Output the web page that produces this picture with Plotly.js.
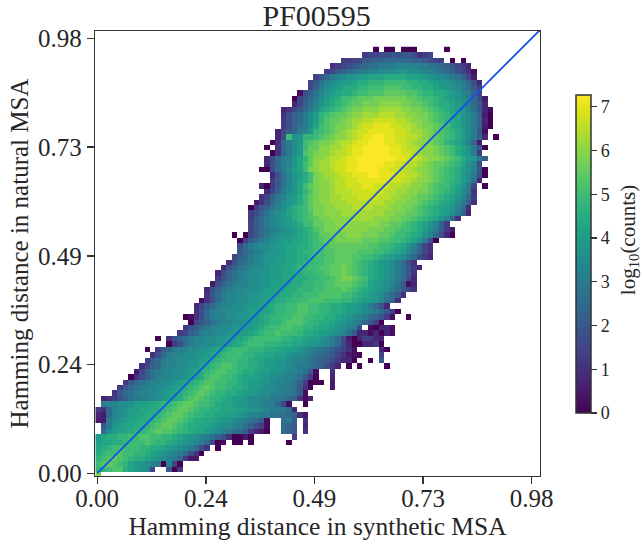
<!DOCTYPE html>
<html><head><meta charset="utf-8">
<script src="https://cdn.plot.ly/plotly-3.0.1.min.js"></script>
<style>html,body{margin:0;padding:0;background:#fff}#c{width:643px;height:547px}</style>
</head><body><div id="c"></div>
<script>
const title = "PF00595";
const xTitle = "Hamming distance in synthetic MSA";
const yTitle = "Hamming distance in natural MSA";
const tickVals = [0, 0.245, 0.49, 0.735, 0.98];
const tickLabels = ["0.00", "0.24", "0.49", "0.73", "0.98"];
const cbTicks = [0,1,2,3,4,5,6,7];
// log10(counts) per bin, one character per bin: value = code / 4 (0-9 then a-t), "." = empty bin.
// Listed top row first; rowStart is the index of the first bin in the row.
const rowStart = [51,49,45,43,42,40,39,39,37,36,36,34,34,34,34,33,33,32,31,32,31,31,30,32,32,30,31,30,29,28,28,28,28,28,25,26,26,26,25,24,23,22,22,21,20,20,19,18,18,16,17,16,15,11,13,9,10,9,8,7,6,5,4,3,1,1,0,0,0,1,1,0,0,0,0,0,0,0,0];
const rowCells = [
"0.00.000.....0",
"5667787887456",
"55668899aaaaa998765.0.0",
"456789abbcccddddccbba98653",
"5689abccddeeefffeeddcba97641",
"68acdeffgghhhiiiihhggfeedcb962",
"68bdefgghiijjjkkkkjjiihgffedca73",
"69cefghiijjkkklllkkjjiihgffecb85",
"179bdfghiijkklllmmmmllkjjiihgfdc96",
"068aceghikklmmmnnnnnnmmlkkjihgfeca72",
"369bdfhijklmmnnnoooonnmmlkjiihgeca83",
"3468acehijklmnnoooppppoonnmlkjihgfdb831",
"479acegjklmmnoopppqqqppoonnmlkjihfec920",
"579acegjlmmnoppqqrrrrqqpoonmlkjihfec930",
"579bcehklmnnopqrrsssrrqqponnmlkihgec920",
"368acdfjklmnopqrrsssssrrqpponmlkjigec81",
"37kefjjklmnoopqrssttssrrqqponmlkjigec93.0",
"04acefklmnnopqqrsstttssrrqpoonmljihfd92",
"0.4acegkmmooppqrsstttttssrqqpoonmlkihfc80",
"049ceflmnoopqqrsstttttssrrqpoonmlkigfc5",
"37acdfhjmoopqqrsstttttttssrrqpoonmlkigfc9",
"37acdfhkmoppqrrsstttttssrrqqponmmlkjhfd7",
"007aceghknoppqrrssttttssrrqqpoonmlkjigfd80",
"37bdfgiknoppqrrsssttsssrrqqponmlkjigec70",
"58bdfhiknoopqqrrssssssrrqqpoonmlkjigeb3",
"3058bdfhkmnoopqqrrrssrrrqqppoonmlkkihfc6.0",
"369cefhjlnoopqqqrrrrrrqqppoonnmlkjigec4",
"469cdfgikmnooppqqqrrrrqqppoonmmlkjihfda5",
"247acefgikmnoopppqqqqqqqppoonnmlkjihgec94",
"0589bdegijkmnnoopppqqqqpppoonnmlkjihgfda4",
"579bdefhijklnnoooppppppppoonnmmlkjihgec93",
"58acdefgijklmnnoooopppp" + "ooonnmmlkjihfda4",
"68acdefghikkmmnnoooooooonnmmlkjihfd95",
"68abcdefghijlmnnnooooonnnmmlkkjigec852",
"0.068acdeffghijkmmnnnooonnnmmlkkjihfda730",
"068acdefgghhijklmmnnnnnmmmllkkjihfc70",
"7acdeefgghhiijkklmmmmmmmllkkjihfda64",
"8abcdeffghhijjkkllmmmmlllkkjihgec964",
"69acdeffgghhiijkkllmmmllkkjihgfeca753",
"47abcdeffgghhijjkkllmmmlkjihgfeca74",
"379bcdeefgghhijjkkllmmnmlkjihgfecb853",
"379bcdeeffgghhiijjkklmmnmlkjihgfeca84",
"579bcdeeffgghhiiijjkklmnnmlkihgfdca73",
"279bcddeeffgghhiijjkkllmmmlkjhgfedb813",
"379bcddeeffgghhiijjjkklllmlkjihgfeca864",
"48acddeeffgghhiijjkkkllllkkjihgfeca84",
"147acddeeffgghiijjkklllkkkjjihggfdb94",
"368acddeeffgghijjkkllkkjjiihggfeca73",
"47acddeeffgghhijjkkllkkjjiihggfedca850",
"0147acddeeffgghijjkkllkkjjiihgfedca9751..0",
"0689bcddeefgghijjklllkjjiihgfedca850",
"578acddeeffgghijkkllkkjjihhgfedc7.10331",
"569acddeeffgghijkklkkkjiihggfedb83313031",
"0.479bcddeeffgghijkkkkkjjiihggfeca72035533",
"057acddeeffghijkkkjjjiihhgffedca63003350",
"0.58acddeeffghijkkkjjjiihhggfedcba97641....30",
"47acddeeffghijkkkjjiihhggfeedcba9864210...6",
"58acddeeffghijkkkjjiihggffeddcba9875330..0.8",
"469acddeeffhijkllkjjiihggffedccba9753.0.0....0",
"269bcddeefghijkllkkjiihggffeddcb81..4",
"0479bcddeefghikllkkjihhggfeeddcb850..3",
"58abcddeefghijkllkkjjihggffeddcb95000.2",
"58abcddeefghijklmlkkjiihggfeedccb840...2",
"48abcddeefghijklmlkjjiihggfeeddccb81",
"34579bccddefghiklmlkjjihggfeeddccba9413",
"cddeefgghhijjklmmlkkjihhgffeedcca61..0",
"54adefgghhiijklmmlkjjiihhhggffedccca3",
"32adefghhiijklmmlkjjiihhggfeddccbbba942",
"22cefghhiijklmmlkjiihhgffedcba81..bc9.4",
"8cfghhiijklmmlkjiihhgfeedcb9751..b98.3",
"aeghhijjklmllkjjihhgfedcba85320..a98.4",
"ghiijjkkllkkjjihgfedcb9740020.......5",
"ghhiijkkklkjjihgfedca601.00.0......0",
"hijkkkkkjjiihgfedca74.0",
"ijkklkkjjihgfedca740",
"jklmlkjiihgfedca522",
"klmlkjhgfedc0d60",
"jjkllihgfe6..805",
"o"
];
</script>
<script>
const cellSize = 0.01228, gridLeft = -0.0038, gridBottom = 0.003, nCols = 76;
const nRows = rowCells.length;
const code = "0123456789abcdefghijklmnopqrst";
const z = [], ys = [];
for (let r = nRows - 1; r >= 0; r--) {
  const row = new Array(nCols).fill(null);
  for (let k = 0; k < rowCells[r].length; k++) {
    const idx = code.indexOf(rowCells[r][k]);
    if (idx >= 0) row[rowStart[r] + k] = idx / 4;
  }
  z.push(row);
  ys.push(gridBottom + cellSize * (nRows - 2 - r + 0.5));
}
const ink = "#262626";
const serif = "Liberation Serif, Times New Roman, serif";
const axisBase = {
  showgrid:false, zeroline:false, showline:true, mirror:true, linecolor:"#333", linewidth:1.3,
  ticks:"outside", ticklen:7, tickwidth:1.4, tickcolor:"#333",
  tickmode:"array", tickvals:tickVals, ticktext:tickLabels,
  tickfont:{family:serif,size:25,color:ink}
};
Plotly.newPlot("c",[
 {type:"heatmap",z:z,x0:gridLeft+cellSize/2,dx:cellSize,y:ys,colorscale:"Viridis",zmin:0,zmax:7.27,
  hoverongaps:false,xgap:0,ygap:0,
  colorbar:{x:1.082,xanchor:"left",xpad:0,y:0.499,yanchor:"middle",ypad:0,lenmode:"pixels",len:318,
    thicknessmode:"pixels",thickness:15,outlinewidth:1.5,outlinecolor:"#333",
    tickmode:"array",tickvals:cbTicks,ticks:"outside",ticklen:6,tickwidth:1.3,tickcolor:"#333",
    tickfont:{family:serif,size:18,color:ink}}},
 {type:"scatter",mode:"lines",x:[0,1],y:[0,1],line:{color:"#1450e6",width:1.7},showlegend:false}
],{
 width:643,height:547,margin:{l:94.5,r:103,t:31,b:71},paper_bgcolor:"#fff",plot_bgcolor:"#fff",
 showlegend:false,
 title:{text:title,font:{family:serif,size:30,color:ink},x:0.4925,xanchor:"center",y:0.972,yanchor:"middle"},
 xaxis:Object.assign({},axisBase,{range:[-0.005,0.9987],ticklabelstandoff:-7,title:{text:xTitle,font:{family:serif,size:25.5,color:ink},standoff:1}}),
 yaxis:Object.assign({},axisBase,{range:[-0.006,0.9964],title:{text:yTitle,font:{family:serif,size:25,color:ink},standoff:2}}),
 annotations:[{text:"log<sub>10</sub>(counts)",xref:"paper",yref:"paper",x:1.2,y:0.53,xanchor:"center",yanchor:"middle",
   textangle:-90,showarrow:false,font:{family:serif,size:21,color:ink}}]
},{displayModeBar:false,staticPlot:true});
</script>
</body></html>
